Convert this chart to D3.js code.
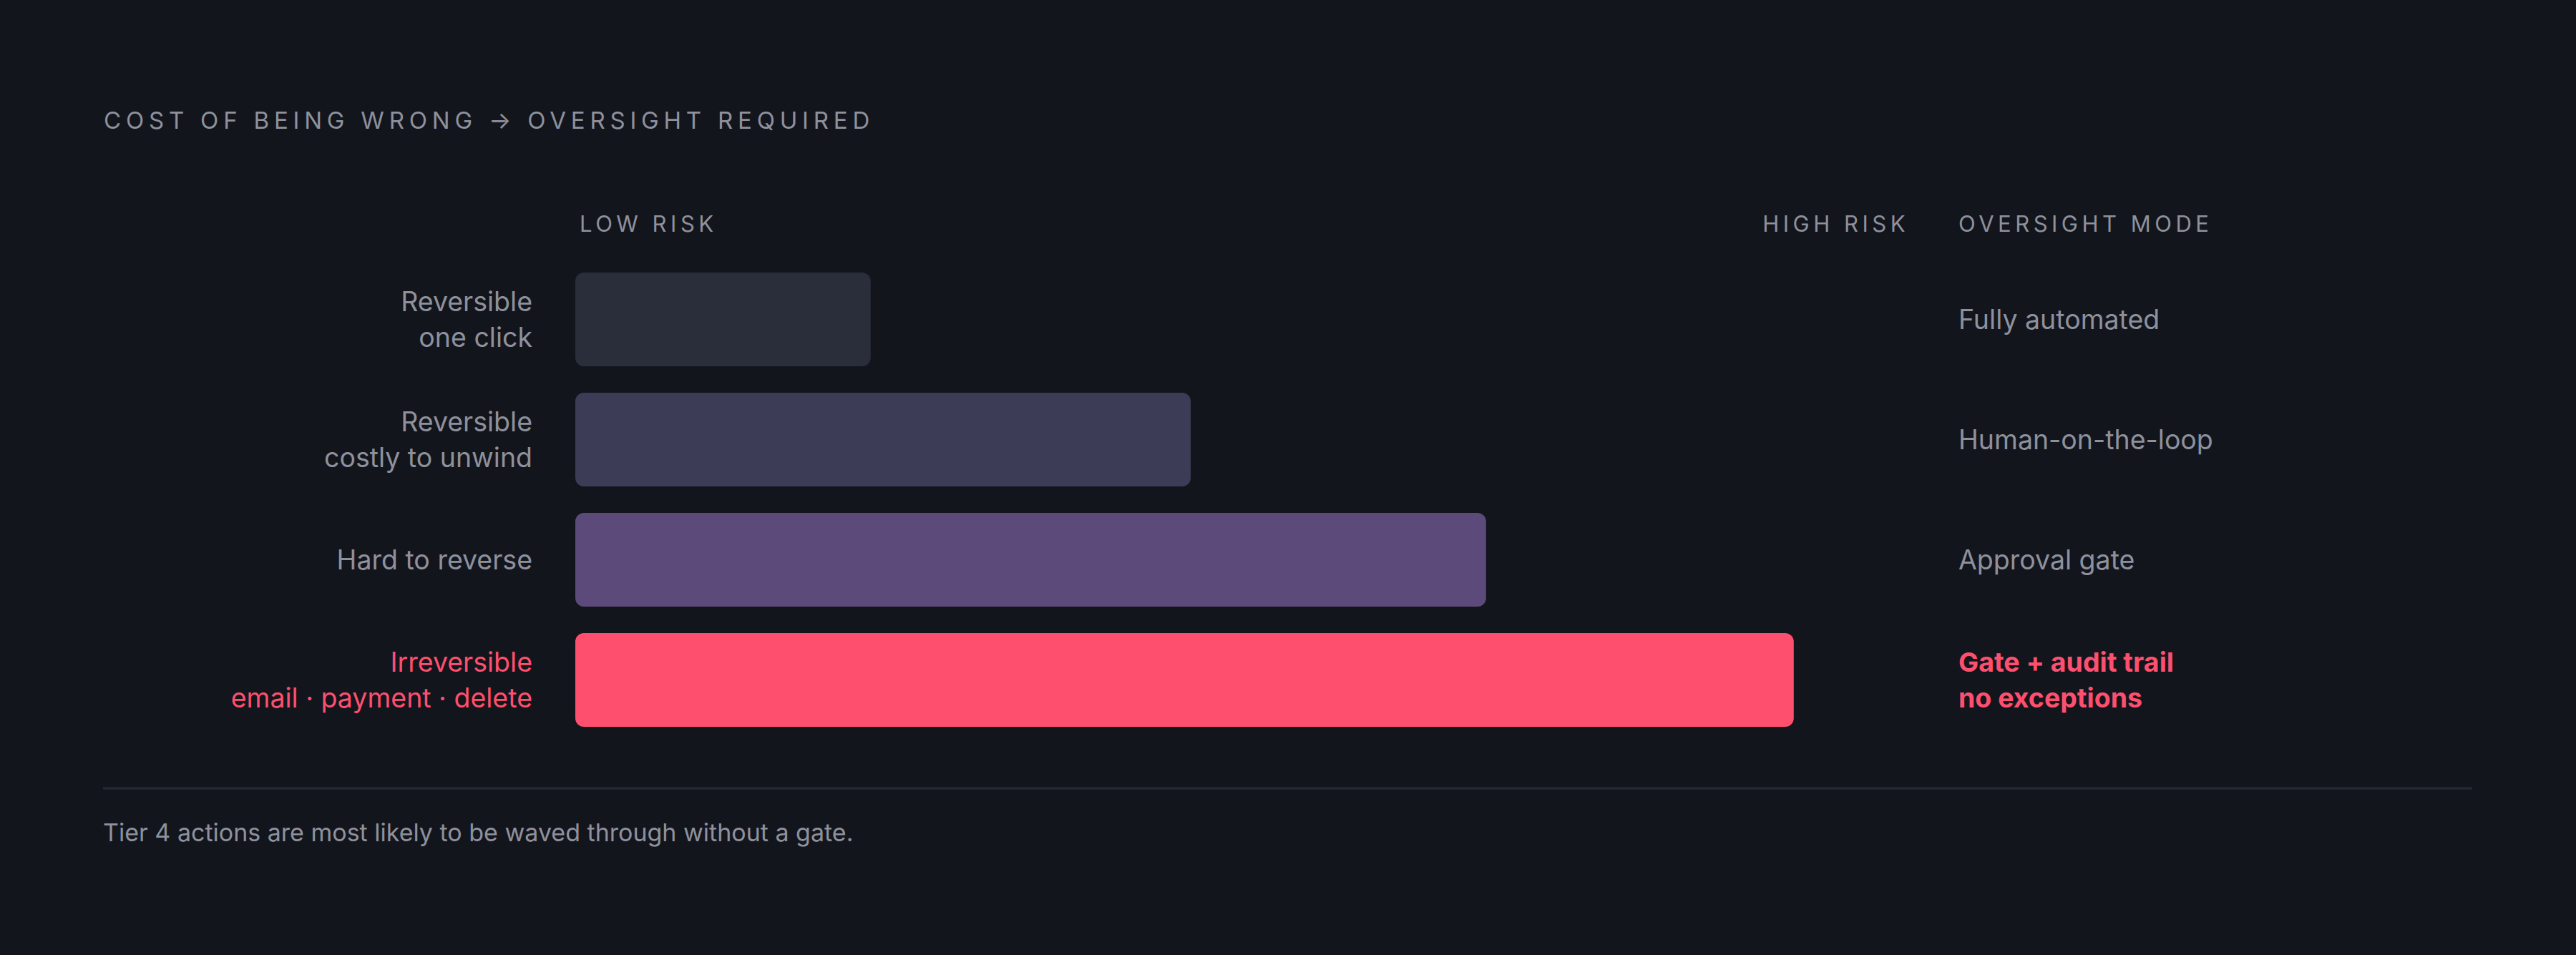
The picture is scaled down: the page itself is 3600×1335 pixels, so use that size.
<!DOCTYPE html>
<html>
<head>
<meta charset="utf-8">
<script src="https://cdn.jsdelivr.net/npm/d3@7"></script>
<style>
  html, body { margin: 0; padding: 0; background: #13151d; }
  svg { display: block; }
</style>
</head>
<body>
<svg id="chart" width="3600" height="1335"></svg>
<script>
// ---- data ----
const tiers = ["t1", "t2", "t3", "t4"];
const riskLabels = [
  ["Reversible", "one click"],
  ["Reversible", "costly to unwind"],
  ["Hard to reverse"],
  ["Irreversible", "email · payment · delete"]
];
const riskValues = [24, 50, 74, 99];
const oversightModes = [
  ["Fully automated"],
  ["Human-on-the-loop"],
  ["Approval gate"],
  ["Gate + audit trail", "no exceptions"]
];
const barColors = ["#2a2e3b", "#3d3c56", "#5c4a7a", "#ff4f6e"];
const highlight = [false, false, false, true];
const titleText = "COST OF BEING WRONG → OVERSIGHT REQUIRED";
const axisLabels = ["LOW RISK", "HIGH RISK", "OVERSIGHT MODE"];
const footnote = "Tier 4 actions are most likely to be waved through without a gate.";

// ---- styles ----
const BG = "#13151d", MUTED = "#8e919c", RED = "#ff4f6e", RULE = "#272a35";
const FONT = "Inter, 'Noto Sans', sans-serif";

const svg = d3.select("#chart");
svg.append("rect").attr("width", 3600).attr("height", 1335).attr("fill", BG);

const x = d3.scaleLinear().domain([0, 100]).range([804, 2524]);
const y = d3.scaleBand().domain(tiers).range([381, 1016]).paddingInner(0.22).paddingOuter(0);

// title
svg.append("text")
  .attr("x", 145).attr("y", 180)
  .attr("font-family", FONT).attr("font-size", 33)
  .attr("letter-spacing", 6.8)
  .attr("fill", MUTED)
  .text(titleText);

// column headers
const hdr = svg.append("g").attr("font-family", FONT).attr("font-size", 31)
  .attr("letter-spacing", 5.5).attr("fill", MUTED);
hdr.append("text").attr("x", 810).attr("y", 324).text(axisLabels[0]);
hdr.append("text").attr("x", 2668).attr("y", 324).attr("text-anchor", "end").text(axisLabels[1]);
hdr.append("text").attr("x", 2737).attr("y", 324).text(axisLabels[2]);

// bars
svg.append("g").selectAll("rect").data(tiers).join("rect")
  .attr("x", x(0))
  .attr("y", d => y(d))
  .attr("width", (d, i) => x(riskValues[i]) - x(0))
  .attr("height", y.bandwidth())
  .attr("rx", 12).attr("ry", 12)
  .attr("fill", (d, i) => barColors[i]);

function lines(g, xPos, anchor, linesArr, i, weight) {
  const cy = y(tiers[i]) + y.bandwidth() / 2;
  const n = linesArr.length;
  const t = g.append("text")
    .attr("x", xPos)
    .attr("text-anchor", anchor)
    .attr("font-family", FONT)
    .attr("font-size", 37.5)
    .attr("font-weight", weight)
    .attr("fill", highlight[i] ? RED : MUTED);
  linesArr.forEach((s, k) => {
    t.append("tspan").attr("x", xPos)
      .attr("y", cy + 13.5 - (n - 1) * 25 + k * 50)
      .text(s);
  });
}

const left = svg.append("g");
riskLabels.forEach((l, i) => lines(left, 744, "end", l, i, 400));
const right = svg.append("g");
oversightModes.forEach((l, i) => lines(right, 2737, "start", l, i, highlight[i] ? 700 : 400));

// rule + footnote
svg.append("line").attr("x1", 144).attr("x2", 3455).attr("y1", 1102).attr("y2", 1102)
  .attr("stroke", RULE).attr("stroke-width", 3);
svg.append("text").attr("x", 144).attr("y", 1176)
  .attr("font-family", FONT).attr("font-size", 34).attr("fill", MUTED)
  .text(footnote);
</script>
</body>
</html>
